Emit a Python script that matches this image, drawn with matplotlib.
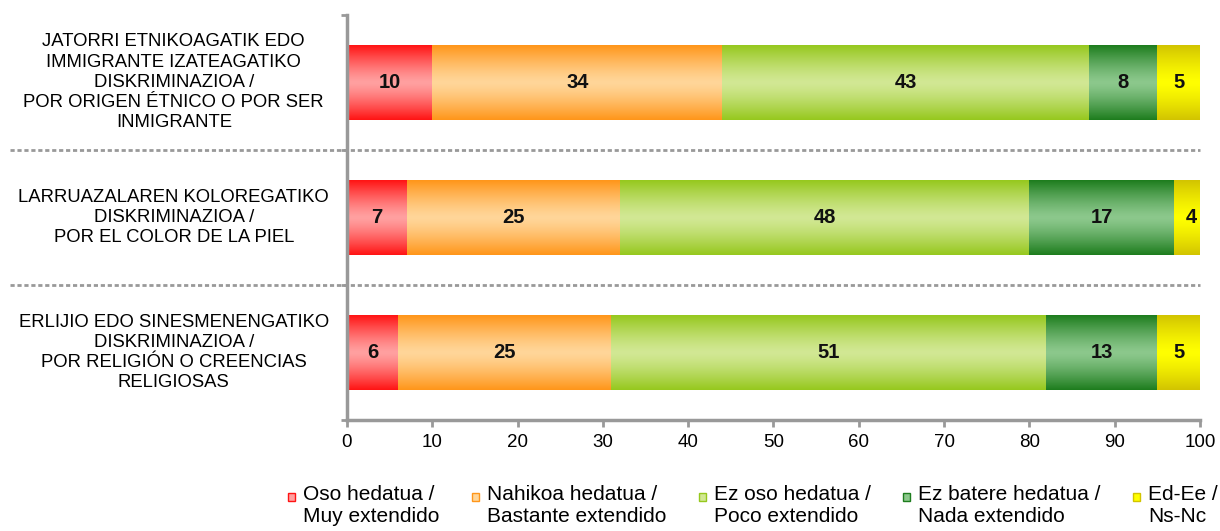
import numpy as np
import matplotlib.pyplot as plt
from matplotlib.colors import LinearSegmentedColormap
from matplotlib.patches import Rectangle

plt.rcParams['font.family'] = ['Liberation Sans', 'DejaVu Sans']

categorias = [
    'JATORRI ETNIKOAGATIK EDO\nIMMIGRANTE IZATEAGATIKO\nDISKRIMINAZIOA /\nPOR ORIGEN ÉTNICO O POR SER\nINMIGRANTE',
    'LARRUAZALAREN KOLOREGATIKO\nDISKRIMINAZIOA /\nPOR EL COLOR DE LA PIEL',
    'ERLIJIO EDO SINESMENENGATIKO\nDISKRIMINAZIOA /\nPOR RELIGIÓN O CREENCIAS\nRELIGIOSAS',
]
series = [
    'Oso hedatua /\nMuy extendido',
    'Nahikoa hedatua /\nBastante extendido',
    'Ez oso hedatua /\nPoco extendido',
    'Ez batere hedatua /\nNada extendido',
    'Ed-Ee /\nNs-Nc',
]
valores = np.array([
    [10, 34, 43, 8, 5],
    [7, 25, 48, 17, 4],
    [6, 25, 51, 13, 5],
])
# (borde, centro) de cada degradado
colores = [
    ('#ff1414', '#ffa0a0'),
    ('#ff961a', '#ffd699'),
    ('#96c81e', '#d2e894'),
    ('#1e7d1e', '#8cc88c'),
    ('#d2c400', '#ffff00'),
]

fig = plt.figure(figsize=(12.2, 5.31), dpi=100)
ax = fig.add_axes([0.2844, 0.209, 0.6992, 0.7628])

alto = 0.55
grad = np.abs(np.linspace(-1, 1, 100))[:, None] ** 1.3
for i, fila in enumerate(valores):
    izq = 0
    for j, v in enumerate(fila):
        cmap = LinearSegmentedColormap.from_list('g', [colores[j][1], colores[j][0]])
        ax.imshow(grad, cmap=cmap, aspect='auto', interpolation='bicubic',
                  extent=(izq, izq + v, i + alto / 2, i - alto / 2), zorder=2)
        ax.text(izq + v / 2, i, str(v), ha='center', va='center',
                fontsize=14.5, fontweight='bold', color='#111111', zorder=3)
        izq += v

ax.set_xlim(0, 100)
ax.set_ylim(2.5, -0.5)
ax.set_xticks(range(0, 101, 10))
ax.set_yticks([])
ax.set_yticks([-0.5, 0.5, 1.5, 2.5], minor=True)
ax.tick_params(axis='x', length=5, width=2, color='#999999', labelsize=13.5, pad=5)
ax.tick_params(axis='y', which='minor', length=4, width=2, color='#999999')
for lado in ['top', 'right']:
    ax.spines[lado].set_visible(False)
for lado in ['left', 'bottom']:
    ax.spines[lado].set_color('#999999')
    ax.spines[lado].set_linewidth(2.5)

for y in [0.5, 1.5]:
    ax.axhline(y, xmin=-0.395, xmax=1, color='#999999', linestyle=(0, (1.5, 1)),
               linewidth=2, clip_on=False, zorder=1)

for i, c in enumerate(categorias):
    ax.text(-20.3, i, c, ha='center', va='center', fontsize=13.3,
            linespacing=1.25, transform=ax.transData)

# leyenda
pos_x = [288, 472, 699, 903, 1133]
for j, s in enumerate(series):
    x = pos_x[j] / 1220
    fig.patches.append(Rectangle((x, 1 - 501 / 531), 7 / 1220, 8 / 531,
                                 transform=fig.transFigure, facecolor=colores[j][1],
                                 edgecolor=colores[j][0], linewidth=1))
    fig.text(x + 15 / 1220, 1 - 485 / 531, s, ha='left', va='top',
             fontsize=15, linespacing=1.22)

fig.savefig('out.png', dpi=100)
